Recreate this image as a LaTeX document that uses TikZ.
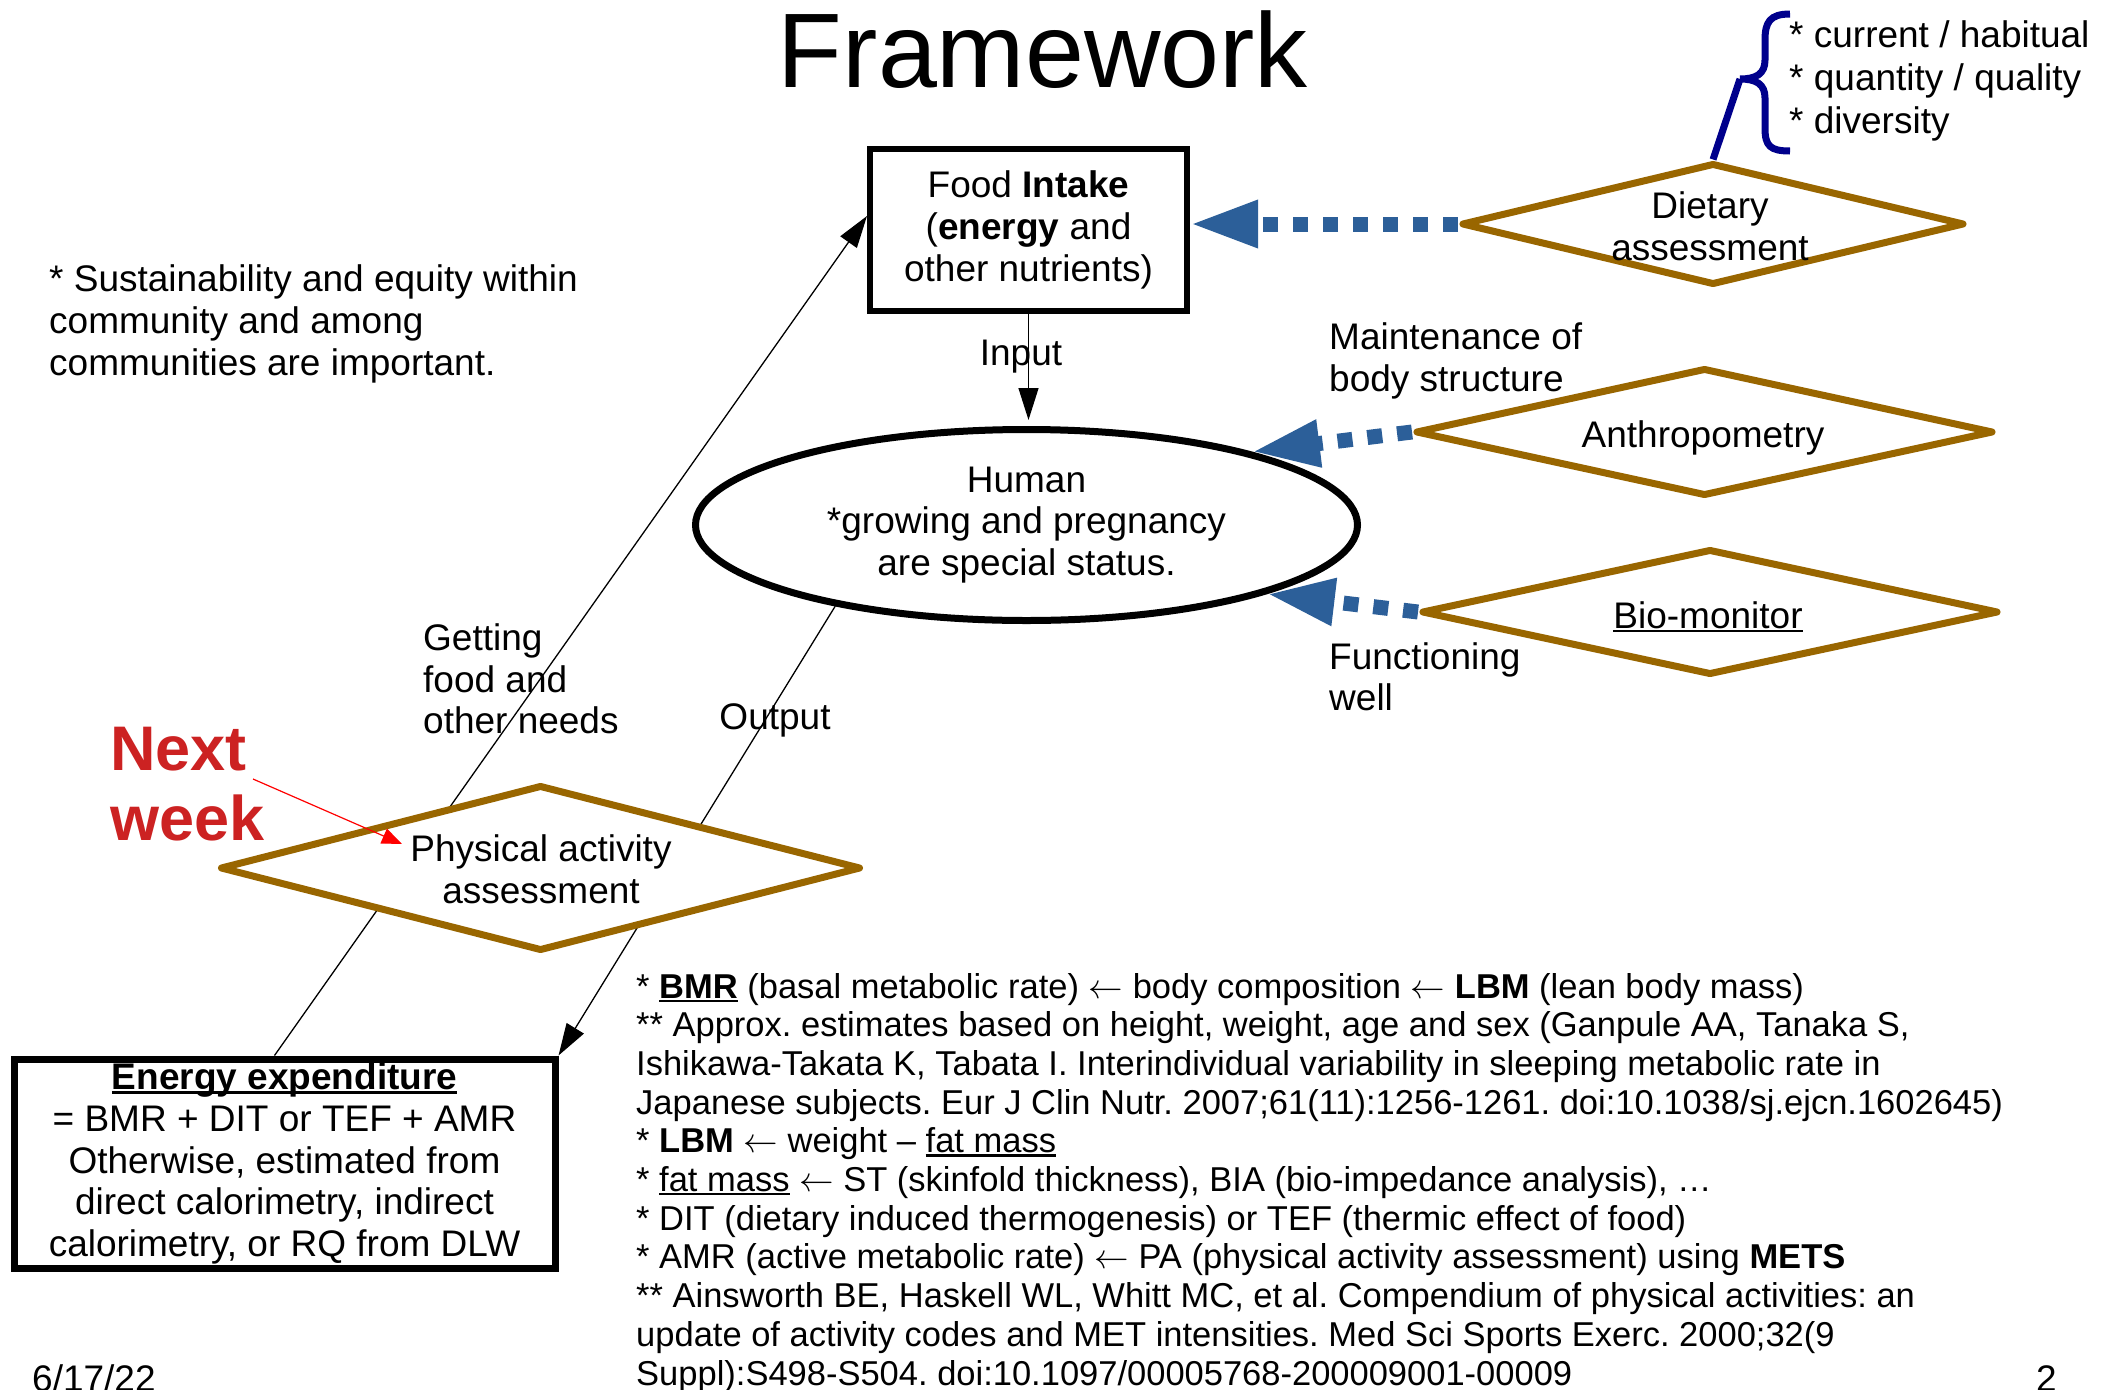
\RequirePackage{fix-cm}
\documentclass[tikz,border=0pt]{standalone}
\usepackage{fontspec}
\setmainfont{Liberation Sans}
\usetikzlibrary{arrows.meta,shapes.geometric}
\definecolor{brn}{RGB}{153,102,0}
\definecolor{dblue}{RGB}{44,95,153}
\definecolor{bracenavy}{RGB}{0,0,140}
\definecolor{nextred}{RGB}{204,34,34}
\newcommand{\setfs}[2]{\fontsize{#1}{#2}\selectfont}
\newcommand{\myul}[1]{\leavevmode\setbox0=\hbox{#1}\rlap{\rule[-0.11em]{\wd0}{0.065em}}\box0\relax}
\newcommand{\larr}{$\leftarrow$}
\frenchspacing
\begin{document}
\begin{tikzpicture}[x=1pt,y=-1pt,
  txt/.style={inner sep=0pt, font=\setfs{37}{42}},
  note/.style={inner sep=0pt, anchor=base west, font=\setfs{34.5}{38.7}},
  diam/.style={diamond, draw=brn, line width=7pt, line join=round, fill=white, inner sep=0pt},
  thinarrow/.style={draw=black, line width=1.3pt, -{Triangle[length=32pt,width=20pt]}},
  bluedash/.style={draw=dblue, line width=15pt, dash pattern=on 15pt off 15pt, -{Triangle[length=68pt,width=44pt]}}]
\useasboundingbox (0,0) rectangle (2114,1389);
\clip (0,0) rectangle (2114,1389);

% title
\node[inner sep=0pt, font=\setfs{106}{120}, anchor=base] (title) at (1043,88) {Framework};

% main nodes
\node[draw, line width=6pt, fill=white, minimum width=317pt, minimum height=162pt, inner sep=0pt,
      align=center, font=\setfs{37}{42}] (food) at (1028.5,230)
      {Food \textbf{Intake}\\(\textbf{energy} and\\other nutrients)};
\node[ellipse, draw, line width=7pt, minimum width=662pt, minimum height=191pt, inner sep=0pt,
      align=center, font=\setfs{37}{41.5}] (human) at (1026.5,525)
      {Human\\*growing and pregnancy\\are special status.};
\node[draw, line width=7pt, minimum width=541pt, minimum height=209pt, inner sep=0pt,
      align=center, font=\setfs{37}{41.8}] (energy) at (284.5,1163.5)
      {\textbf{\myul{Energy expenditure}}\\= BMR + DIT or TEF + AMR\\Otherwise, estimated from\\direct calorimetry, indirect\\calorimetry, or RQ from DLW};

% thin connectors
\draw[thinarrow] ([xshift=-10pt]energy.north) -- ([yshift=14pt]food.west);
\draw[thinarrow] (human.203) -- (energy.north east);
\draw[thinarrow, shorten >=6pt] (food.south) -- (food.south |- human.north);
\node[txt, anchor=base] (input) at (1021,365) {Input};
\node[txt, anchor=base] (output) at (775,729) {Output};

% diamonds
\node[diam, minimum width=503pt, minimum height=122pt] (diet) at (1713,224) {};
\node[diam, minimum width=578pt, minimum height=128pt] (anthro) at (1704.5,432) {};
\node[diam, minimum width=577pt, minimum height=126pt] (bio) at (1710,612) {};
\node[diam, minimum width=641pt, minimum height=166pt] (pa) at (540.5,868) {};
\node[txt, align=center] (dietT) at (1710,226) {Dietary\\assessment};
\node[txt, anchor=base] (anthroT) at (1703,447) {Anthropometry};
\node[txt, anchor=base] (bioT) at (1708,628) {\myul{Bio-monitor}};
\node[txt, align=center] (paT) at (541,869) {Physical activity\\assessment};

% blue dashed arrows
\draw[bluedash] (diet.west) -- (diet.west -| food.east);
\draw[bluedash] (anthro.west) -- (human.18);
\draw[bluedash] (bio.west) -- (human.-16);

% brace
\draw[bracenavy, line width=7pt] (1790,14) .. controls (1770,14) and (1765,22) .. (1765,40)
  -- (1765,60) .. controls (1765,74) and (1756,79) .. (1740,79)
  .. controls (1756,79) and (1765,84) .. (1765,98)
  -- (1765,128) .. controls (1765,146) and (1770,151) .. (1790,151);
\coordinate (bracetip) at (1740,79);
\draw[bracenavy, line width=7pt] (bracetip) -- (diet.north);
\node[txt, anchor=base west] (b1) at (1789,48) {* current / habitual};
\node[txt, anchor=base west] (b2) at (1789,90.5) {* quantity / quality};
\node[txt, anchor=base west] (b3) at (1789,133) {* diversity};

% side texts
\node[txt, anchor=base west] (s1) at (49,291) {* Sustainability and equity within};
\node[txt, anchor=base west] (s2) at (49,333) {community and among};
\node[txt, anchor=base west] (s3) at (49,375) {communities are important.};
\node[txt, anchor=base west] (m1) at (1329,349) {Maintenance of};
\node[txt, anchor=base west] (m2) at (1329,391) {body structure};
\node[txt, anchor=base west] (f1) at (1329,669) {Functioning};
\node[txt, anchor=base west] (f2) at (1329,710) {well};
\node[txt, anchor=base west] (g1) at (423,650) {Getting};
\node[txt, anchor=base west] (g2) at (423,692) {food and};
\node[txt, anchor=base west] (g3) at (423,733) {other needs};

% next week
\node[inner sep=0pt, anchor=base west, font=\setfs{63}{70}\bfseries, text=nextred] (next) at (110,770) {Next};
\node[inner sep=0pt, anchor=base west, font=\setfs{63}{70}\bfseries, text=nextred] (week) at (110,840) {week};
\coordinate (redstart) at (253,779);
\coordinate (redend) at (402,844);
\draw[red, line width=1.2pt, -{Triangle[length=20pt,width=16pt]}] (redstart) -- (redend);

% notes
\node[note] (n1) at (636,998) {* \textbf{\myul{BMR}} (basal metabolic rate) \larr{} body composition \larr{} \textbf{LBM} (lean body mass)};
\node[note] (n2) at (636,1036.7) {** Approx. estimates based on height, weight, age and sex (Ganpule AA, Tanaka S,};
\node[note] (n3) at (636,1075.4) {Ishikawa-Takata K, Tabata I. Interindividual variability in sleeping metabolic rate in};
\node[note] (n4) at (636,1114.1) {Japanese subjects. Eur J Clin Nutr. 2007;61(11):1256-1261. doi:10.1038/sj.ejcn.1602645)};
\node[note] (n5) at (636,1152.8) {* \textbf{LBM} \larr{} weight – \myul{fat mass}};
\node[note] (n6) at (636,1191.5) {* \myul{fat mass} \larr{} ST (skinfold thickness), BIA (bio-impedance analysis), …};
\node[note] (n7) at (636,1230.2) {* DIT (dietary induced thermogenesis) or TEF (thermic effect of food)};
\node[note] (n8) at (636,1268.9) {* AMR (active metabolic rate) \larr{} PA (physical activity assessment) using \textbf{METS}};
\node[note] (n9) at (636,1307.6) {** Ainsworth BE, Haskell WL, Whitt MC, et al. Compendium of physical activities: an};
\node[note] (n10) at (636,1346.3) {update of activity codes and MET intensities. Med Sci Sports Exerc. 2000;32(9};
\node[note] (n11) at (636,1385) {Suppl):S498-S504. doi:10.1097/00005768-200009001-00009};

% footer
\node[txt, anchor=base west] (date) at (32,1391) {6/17/22};
\node[txt, anchor=base west] (page) at (2036,1391) {2};
\end{tikzpicture}
\end{document}
